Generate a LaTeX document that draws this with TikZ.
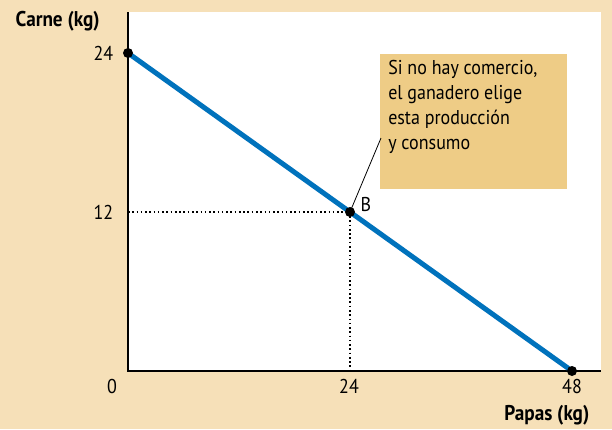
\documentclass[tikz,border=0pt]{standalone}
\usepackage{fontspec}
\setmainfont{PT Sans}[FakeStretch=0.9]
\definecolor{pagetan}{RGB}{246,224,184}
\definecolor{notetan}{RGB}{238,204,134}
\definecolor{pplblue}{RGB}{0,114,188}
\tikzset{
  dot/.style={circle,fill=black,inner sep=0pt,minimum size=7.5pt},
  tick/.style={font=\fontsize{15}{18}\selectfont},
  axlabel/.style={font=\bfseries\fontsize{16}{19}\selectfont}
}
\begin{document}
\begin{tikzpicture}[x=0.75pt,y=-0.75pt]
\fill[pagetan] (0,0) rectangle (612,429);
\fill[white] (128,12) rectangle (601,371);
\coordinate (O) at (128,371);
\coordinate (ytop) at (128,12);
\coordinate (xend) at (601,371);
\draw[line width=0.9pt] (ytop) -- (O) -- (xend);
% note box
\node[fill=notetan,inner sep=0pt,minimum width=140.25pt,minimum height=101.25pt,anchor=north west] (note) at (380,54) {};
\node[anchor=north west,align=left,inner sep=0pt,font=\fontsize{15}{18.75}\selectfont] (notetext) at (388,60)
  {Si no hay comercio,\\el ganadero elige\\esta producción\\y consumo};
\coordinate (tip) at (381,138);
% frontier
\coordinate (A) at (128,53);
\coordinate (B) at (350,212);
\coordinate (C) at (572,371);
\draw[dotted,line width=1.2pt] (O |- B) -- (B) -- (B |- O);
\draw[pplblue,line width=3.75pt] (A) -- (C);
\draw[line width=0.6pt] (B) -- (tip);
\node[dot] (a) at (A) {};
\node[dot] (b) at (B) {};
\node[dot] (c) at (C) {};
\node[tick] at (366,204) {B};
% ticks
\node[tick,anchor=east] (y24) at (118,53) {24};
\node[tick,anchor=east] (y12) at (118,212) {12};
\node[tick] (x0) at (112,386) {0};
\node[tick] (x24) at (349,386) {24};
\node[tick] (x48) at (572,386) {48};
\node[axlabel,anchor=east] (xlab) at (594,415) {Papas (kg)};
\node[axlabel,anchor=west] (ylab) at (11,21) {Carne (kg)};
\end{tikzpicture}
\end{document}
